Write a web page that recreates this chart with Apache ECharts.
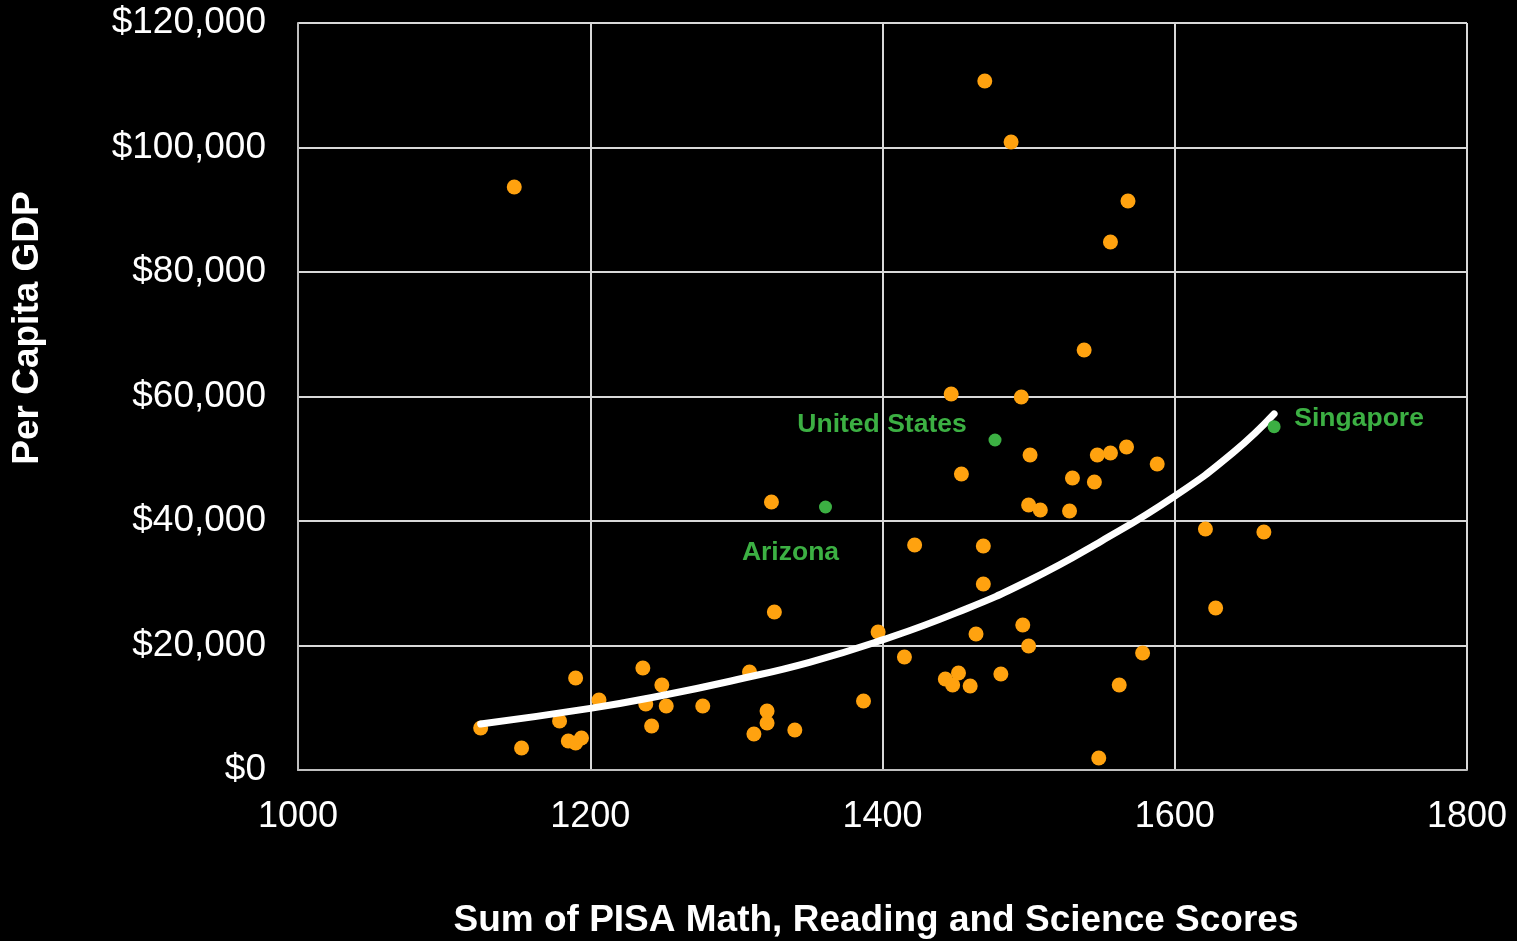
<!DOCTYPE html>
<html>
<head>
<meta charset="utf-8">
<script src="https://cdn.jsdelivr.net/npm/echarts@6/dist/echarts.min.js"></script>
<style>
html,body{margin:0;padding:0;background:#000;}
#c{width:1517px;height:941px;}
</style>
</head>
<body>
<div id="c"></div>
<script>
// Countries: PISA score sum (x) and per-capita GDP (y)
const pisaScores = [1148,1470,1488,1568,1556,1538,1447,1495,1567,1547,1556,1501,1588,1454,1530,1545,1500,1508,1528,1324,1422,1469,1621,1661,1469,1628,1326,1397,1464,1496,1500,1415,1578,1443,1452,1448,1460,1481,1562,1548,1387,1236,1190,1206,1249,1238,1252,1277,1309,1321,1321,1312,1340,1242,1125,1153,1179,1185,1190,1194];
const gdpValues  = [93650,110680,100880,91400,84820,67470,60400,59920,51890,50600,50920,50600,49160,47550,46910,46270,42570,41770,41610,43050,36140,35980,38710,38230,29880,26020,25380,22170,21850,23290,19920,18150,18790,14620,15580,13650,13490,15420,13650,1930,11080,16380,14780,11240,13650,10600,10280,10280,15740,9480,7550,5780,6430,7070,6750,3530,7870,4660,4340,5140];
// Highlighted
const highlightNames = ['United States','Arizona','Singapore'];
const highlightX = [1477,1361,1668];
const highlightY = [53010,42250,55150];
// Trend line
const trendX = [1125,1200,1250,1300,1350,1400,1450,1500,1550,1600,1640,1668];
const trendY = [7400,9900,12000,14500,17300,20900,25200,30400,36800,44000,51000,57200];
// Axis ticks
const xTicks = [1000,1200,1400,1600,1800];
const yTicks = [0,20000,40000,60000,80000,100000,120000];

const chart = echarts.init(document.getElementById('c'));
const font = '"Liberation Sans", Arial, sans-serif';
const labelOffsets = [[-113,-15],[-35,46],[85,-8]];
const green = '#3cb043';

chart.setOption({
  backgroundColor:'#000',
  animation:false,
  grid:{left:298,right:50,top:23,bottom:171,containLabel:false},
  xAxis:{
    type:'value',min:xTicks[0],max:xTicks[xTicks.length-1],interval:200,
    axisLine:{show:true,lineStyle:{color:'#bfbfbf',width:2}},
    axisTick:{show:false},
    splitLine:{show:true,lineStyle:{color:'#d9d9d9',width:2}},
    axisLabel:{color:'#fff',fontFamily:font,fontSize:36,margin:29,formatter:v=>String(v)}
  },
  yAxis:{
    type:'value',min:yTicks[0],max:yTicks[yTicks.length-1],interval:20000,
    axisLine:{show:true,lineStyle:{color:'#bfbfbf',width:2}},
    axisTick:{show:false},
    splitLine:{show:true,lineStyle:{color:'#d9d9d9',width:2}},
    axisLabel:{color:'#fff',fontFamily:font,fontSize:37,margin:32,padding:[5,0,0,0],
      formatter:v=>'$'+v.toLocaleString('en-US')}
  },
  graphic:[
    {type:'text',position:[876,921],style:{text:'Sum of PISA Math, Reading and Science Scores',fill:'#fff',font:'bold 37px '+font,textAlign:'center',textVerticalAlign:'middle'}},
    {type:'text',rotation:Math.PI/2,position:[28,328],style:{text:'Per Capita GDP',fill:'#fff',font:'bold 37px '+font,textAlign:'center',textVerticalAlign:'middle'}}
  ],
  series:[
    {type:'scatter',symbolSize:15,itemStyle:{color:'#ffa20f',opacity:1},
     data:pisaScores.map((x,i)=>[x,gdpValues[i]]),z:2},
    {type:'line',smooth:true,showSymbol:false,symbol:'none',
     lineStyle:{color:'#fff',width:7,cap:'round'},
     data:trendX.map((x,i)=>[x,trendY[i]]),z:3},
    {type:'scatter',symbolSize:13,itemStyle:{color:green,opacity:1},
     data:highlightX.map((x,i)=>({value:[x,highlightY[i]],name:highlightNames[i],
       label:{show:true,position:'inside',offset:labelOffsets[i],formatter:highlightNames[i],
         color:green,fontFamily:font,fontWeight:'bold',fontSize:26.5}})),z:4}
  ]
});
</script>
</body>
</html>
